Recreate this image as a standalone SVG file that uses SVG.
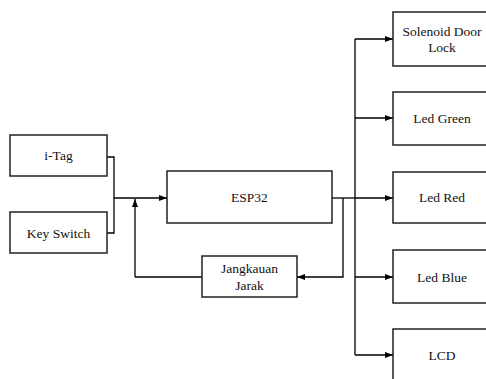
<svg xmlns="http://www.w3.org/2000/svg" width="486" height="379" viewBox="0 0 486 379">
<defs>
<marker id="ah" markerWidth="8" markerHeight="6" refX="8" refY="3" orient="auto" markerUnits="userSpaceOnUse">
<path d="M0,0 L8,3 L0,6 Z" fill="#000"/>
</marker>
<style>
.box{fill:#fff;stroke:#222;stroke-width:1.5}
.lbl{font-family:"Liberation Serif","Times New Roman",serif;font-size:13.5px;fill:#111;text-anchor:middle;dominant-baseline:central}
.ln{fill:none;stroke:#000;stroke-width:1.3}
</style>
</defs>
<rect width="486" height="379" fill="#fff"/>
<g id="connectors">
<path class="ln" d="M107,157 H114 V233 H107"/>
<path class="ln" d="M114,198 H167" marker-end="url(#ah)"/>
<path class="ln" d="M135,277 V199" marker-end="url(#ah)"/>
<path class="ln" d="M135,277 H202"/>
<path class="ln" d="M332,198 H355"/>
<path class="ln" d="M343,198 V277 H297" marker-end="url(#ah)"/>
<path class="ln" d="M355,39 V355"/>
<path class="ln" d="M355,39 H393" marker-end="url(#ah)"/>
<path class="ln" d="M355,118 H393" marker-end="url(#ah)"/>
<path class="ln" d="M355,198 H393" marker-end="url(#ah)"/>
<path class="ln" d="M355,277 H393" marker-end="url(#ah)"/>
<path class="ln" d="M355,355 H393" marker-end="url(#ah)"/>
</g>
<g id="itag"><rect class="box" x="10" y="135" width="97" height="41"/><text class="lbl" x="58.5" y="155.5">i-Tag</text></g>
<g id="keyswitch"><rect class="box" x="10" y="212" width="97" height="41"/><text class="lbl" x="58.5" y="233">Key Switch</text></g>
<g id="esp32"><rect class="box" x="167" y="171" width="165" height="52"/><text class="lbl" x="249.5" y="197">ESP32</text></g>
<g id="jangkauan"><rect class="box" x="202" y="256" width="95" height="41"/><text class="lbl" x="249.5" y="268">Jangkauan</text><text class="lbl" x="249.5" y="285">Jarak</text></g>
<g id="solenoid"><rect class="box" x="393" y="12" width="100" height="54"/><text class="lbl" x="442" y="31">Solenoid Door</text><text class="lbl" x="442" y="47">Lock</text></g>
<g id="ledgreen"><rect class="box" x="393" y="92" width="100" height="53"/><text class="lbl" x="442" y="118">Led Green</text></g>
<g id="ledred"><rect class="box" x="393" y="172" width="100" height="51"/><text class="lbl" x="442" y="197">Led Red</text></g>
<g id="ledblue"><rect class="box" x="393" y="250" width="100" height="53"/><text class="lbl" x="442" y="277">Led Blue</text></g>
<g id="lcd"><rect class="box" x="393" y="329" width="100" height="60"/><text class="lbl" x="442" y="355">LCD</text></g>
</svg>
